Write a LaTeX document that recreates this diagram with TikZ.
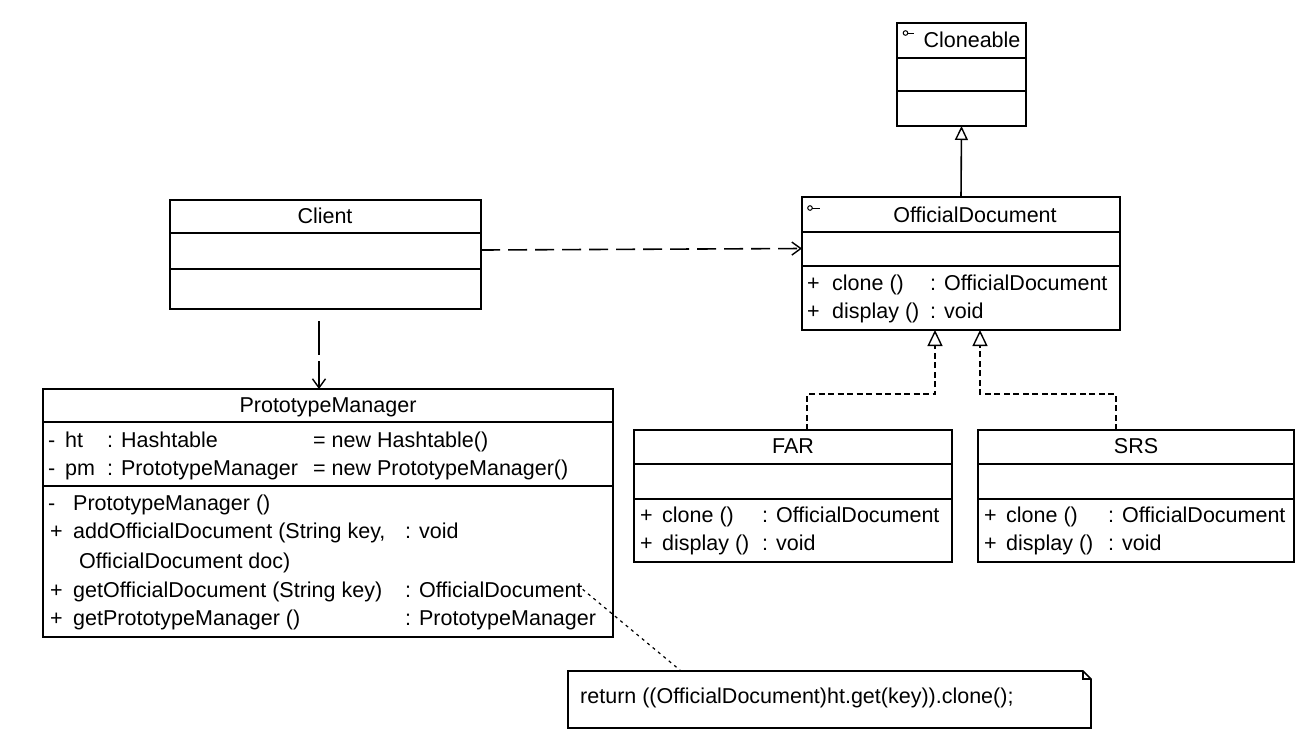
\documentclass[tikz,border=0pt]{standalone}
\usepackage{fontspec}
\setmainfont{Liberation Sans}
\usetikzlibrary{arrows.meta,calc}
\newcommand\umlfont{\fontsize{21.5}{24}\selectfont}
\tikzset{
  cls/.style={draw, line width=1.6pt, rectangle, inner sep=0pt, outer sep=0pt, anchor=north west},
  div/.style={line width=1.6pt},
  t/.style={anchor=base west, inner sep=0pt, font=\umlfont},
  tc/.style={anchor=base, inner sep=0pt, font=\umlfont},
  dep/.style={line width=1.6pt, dash pattern=on 19pt off 8pt, -{Straight Barb[length=9pt,width=13pt,line width=1.4pt]}},
  gen/.style={line width=1.6pt, -{Triangle[open,length=14pt,width=13pt,fill=white,line width=1.4pt]}},
  real/.style={line width=1.6pt, dash pattern=on 6pt off 3.5pt, -{Triangle[open,length=16pt,width=15pt,fill=white,line width=1.4pt]}},
  notelink/.style={line width=1.2pt, dash pattern=on 3pt off 4pt},
  icon/.style={line width=1pt}
}
\begin{document}
\begin{tikzpicture}[x=1pt,y=-1pt]
\useasboundingbox (0,0) rectangle (1306,740);

% Cloneable
\node[cls, minimum width=129pt, minimum height=103pt] (clo) at (897,23) {};
\draw[div] (clo.west |- 0,58) -- (clo.east |- 0,58);
\draw[div] (clo.west |- 0,91) -- (clo.east |- 0,91);
\node[tc] (clot) at (972,47) {Cloneable};
\draw[icon] (905.5,33) circle (2.3pt);
\draw[icon] (907.8,33) -- (914,33);

% OfficialDocument
\node[cls, minimum width=318pt, minimum height=133pt] (od) at (802,197) {};
\draw[div] (od.west |- 0,232) -- (od.east |- 0,232);
\draw[div] (od.west |- 0,266) -- (od.east |- 0,266);
\node[tc] (odt) at (975,222) {OfficialDocument};
\draw[icon] (810,208) circle (2.3pt);
\draw[icon] (812.3,208) -- (820,208);
\node[t] (odp1) at (807,290) {+};
\node[t] (odm1) at (832,290) {clone ()};
\node[t] (odr1) at (930,290) {: OfficialDocument};
\node[t] (odp2) at (807,318) {+};
\node[t] (odm2) at (832,318) {display ()};
\node[t] (odr2) at (930,318) {: void};

% Client
\node[cls, minimum width=311pt, minimum height=109pt] (client) at (170,200) {};
\draw[div] (client.west |- 0,233) -- (client.east |- 0,233);
\draw[div] (client.west |- 0,269) -- (client.east |- 0,269);
\node[tc] (clientt) at (325,223) {Client};

% PrototypeManager
\node[cls, minimum width=570pt, minimum height=248pt] (pm) at (43,389) {};
\draw[div] (pm.west |- 0,422) -- (pm.east |- 0,422);
\draw[div] (pm.west |- 0,486) -- (pm.east |- 0,486);
\node[tc] (pmt) at (328,412) {PrototypeManager};
\node[t] (pma1) at (48,447) {-};
\node[t] (pmn1) at (65,447) {ht};
\node[t] (pmy1) at (107,447) {: Hashtable};
\node[t] (pmv1) at (313,447) {= new Hashtable()};
\node[t] (pma2) at (48,475) {-};
\node[t] (pmn2) at (65,475) {pm};
\node[t] (pmy2) at (107,475) {: PrototypeManager};
\node[t] (pmv2) at (313,475) {= new PrototypeManager()};
\node[t] (pmp1) at (48,510) {-};
\node[t] (pmm1) at (73,510) {PrototypeManager ()};
\node[t] (pmp2) at (50,538) {+};
\node[t] (pmm2) at (73,538) {addOfficialDocument (String key,};
\node[t] (pmr2) at (405,538) {: void};
\node[t] (pmm2b) at (79,568) {OfficialDocument doc)};
\node[t] (pmp3) at (50,597) {+};
\node[t] (pmm3) at (73,597) {getOfficialDocument (String key)};
\node[t] (pmget) at (405,597) {: OfficialDocument};
\node[t] (pmp4) at (50,625) {+};
\node[t] (pmm4) at (73,625) {getPrototypeManager ()};
\node[t] (pmr4) at (405,625) {: PrototypeManager};

% FAR
\node[cls, minimum width=318pt, minimum height=132pt] (far) at (634,430) {};
\draw[div] (far.west |- 0,464) -- (far.east |- 0,464);
\draw[div] (far.west |- 0,499) -- (far.east |- 0,499);
\node[tc] (fart) at (793,453) {FAR};
\node[t] (farp1) at (640,522) {+};
\node[t] (farm1) at (662,522) {clone ()};
\node[t] (farr1) at (762,522) {: OfficialDocument};
\node[t] (farp2) at (640,550) {+};
\node[t] (farm2) at (662,550) {display ()};
\node[t] (farr2) at (762,550) {: void};

% SRS
\node[cls, minimum width=316pt, minimum height=132pt] (srs) at (978,430) {};
\draw[div] (srs.west |- 0,464) -- (srs.east |- 0,464);
\draw[div] (srs.west |- 0,499) -- (srs.east |- 0,499);
\node[tc] (srst) at (1136,453) {SRS};
\node[t] (srsp1) at (984,522) {+};
\node[t] (srsm1) at (1006,522) {clone ()};
\node[t] (srsr1) at (1108,522) {: OfficialDocument};
\node[t] (srsp2) at (984,550) {+};
\node[t] (srsm2) at (1006,550) {display ()};
\node[t] (srsr2) at (1108,550) {: void};

% Note
\node[anchor=north west, minimum width=523pt, minimum height=57pt, inner sep=0pt, outer sep=0pt] (note) at (568,671) {};
\draw[line width=1.6pt] (note.south west) -- (note.north west) -- ([xshift=-8pt]note.north east) -- ([yshift=-8pt]note.north east) -- (note.south east) -- cycle;
\draw[line width=1.1pt] ([xshift=-8pt]note.north east) -- ([xshift=-8pt,yshift=-8pt]note.north east) -- ([yshift=-8pt]note.north east);
\node[t] (notet) at (580,703) {return ((OfficialDocument)ht.get(key)).clone();};

% Connectors
\draw[dep] ([yshift=4.5pt]client.east) -- ([yshift=15pt]od.west);
\draw[dep, dash pattern=on 34pt off 6pt] ([xshift=-6.5pt,yshift=-12pt]client.south) -- ([xshift=-9pt]pm.north);
\draw[gen] (od.north) -- (clo.south);
\draw[real] ([xshift=14pt]far.north) |- ([xshift=-26pt,yshift=-64pt]od.south) -- ([xshift=-26pt]od.south);
\draw[real] ([xshift=-20pt]srs.north) |- ([xshift=19pt,yshift=-64pt]od.south) -- ([xshift=19pt]od.south);
\draw[notelink] (pmget.east) -- ([xshift=113pt]note.north west);
\end{tikzpicture}
\end{document}
